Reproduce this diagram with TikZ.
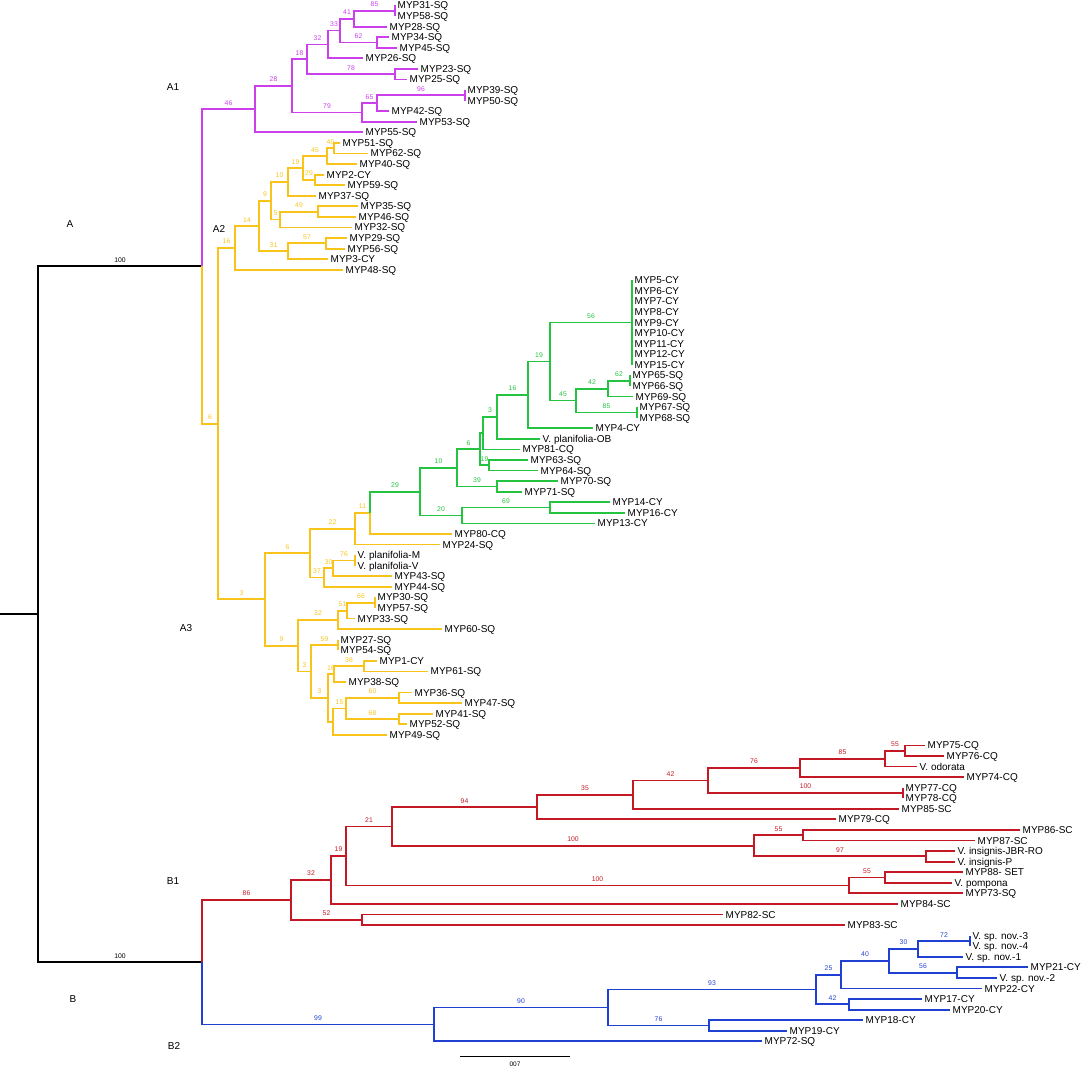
\documentclass[tikz,border=0pt]{standalone}
\usepackage{fontspec}
\setmainfont{Liberation Sans}
\usetikzlibrary{calc}
\definecolor{purp}{RGB}{204,64,236}
\definecolor{gold}{RGB}{248,196,28}
\definecolor{grn}{RGB}{36,196,64}
\definecolor{dred}{RGB}{196,24,36}
\definecolor{blu}{RGB}{32,64,212}
\tikzset{
	br/.style={line width=1.8pt},
	leaf/.style={anchor=west, inner xsep=2.5pt, inner ysep=0pt, text height=7pt, text depth=0pt,
			font=\fontsize{10}{12}\selectfont},
	bs/.style={pos=.75, above, inner sep=1pt, yshift=2pt, font=\fontsize{6.8}{7}\selectfont},
	clade/.style={font=\fontsize{10}{12}\selectfont}
}
% internal node: x from the tree, y half way between first and last child
\newcommand\inode[4]{\path let \p1=($(#3)!.5!(#4)$) in coordinate (#1) at (#2pt,\y1);}

\begin{document}
\begin{tikzpicture}[x=1pt, y=-10.57pt]
	\useasboundingbox (0,-0.52) rectangle (1085,100.52);
	% tips
	\foreach \nm/\r/\xp/\t in {
		l31/0/395/MYP31-SQ, l58/1/395/MYP58-SQ, l28/2/387/MYP28-SQ, l34/3/389/MYP34-SQ,
		l45/4/397/MYP45-SQ, l26/5/363/MYP26-SQ, l23/6/418/MYP23-SQ, l25/7/407/MYP25-SQ,
		l39/8/465/MYP39-SQ, l50/9/465/MYP50-SQ, l42/10/389/MYP42-SQ, l53/11/417/MYP53-SQ,
		l55/12/363/MYP55-SQ,
		l51/13/340/MYP51-SQ, l62/14/368/MYP62-SQ, l40/15/357/MYP40-SQ, l2/16/324/MYP2-CY,
		l59/17/345/MYP59-SQ, l37/18/316/MYP37-SQ, l35/19/358/MYP35-SQ, l46/20/356/MYP46-SQ,
		l32/21/352/MYP32-SQ, l29/22/347/MYP29-SQ, l56/23/345/MYP56-SQ, l3/24/328/MYP3-CY,
		l48/25/343/MYP48-SQ,
		l5/26/632/MYP5-CY, l6/27/632/MYP6-CY, l7/28/632/MYP7-CY, l8/29/632/MYP8-CY,
		l9/30/632/MYP9-CY, l10/31/632/MYP10-CY, l11/32/632/MYP11-CY, l12/33/632/MYP12-CY,
		l15/34/632/MYP15-CY, l65/35/630/MYP65-SQ, l66/36/630/MYP66-SQ, l69/37/633/MYP69-SQ,
		l67/38/637/MYP67-SQ, l68/39/637/MYP68-SQ, l4/40/593/MYP4-CY, lob/41/540/V. planifolia-OB,
		l81/42/520/MYP81-CQ, l63/43/528/MYP63-SQ, l64/44/538/MYP64-SQ, l70/45/558/MYP70-SQ,
		l71/46/522/MYP71-SQ, l14/47/610/MYP14-CY, l16/48/625/MYP16-CY, l13/49/595/MYP13-CY,
		l80/50/452/MYP80-CQ, l24/51/440/MYP24-SQ, lpm/52/355/V. planifolia-M,
		lpv/53/355/V. planifolia-V, l43/54/392/MYP43-SQ, l44/55/392/MYP44-SQ,
		l30/56/375/MYP30-SQ, l57/57/375/MYP57-SQ, l33/58/355/MYP33-SQ, l60/59/442/MYP60-SQ,
		l27/60/338/MYP27-SQ, l54/61/338/MYP54-SQ, l1/62/377/MYP1-CY, l61/63/428/MYP61-SQ,
		l38/64/346/MYP38-SQ, l36/65/412/MYP36-SQ, l47/66/462/MYP47-SQ, l41/67/433/MYP41-SQ,
		l52/68/407/MYP52-SQ, l49/69/387/MYP49-SQ,
		l75/70/925/MYP75-CQ, l76/71/944/MYP76-CQ, lodo/72/917/V. odorata, l74/73/964/MYP74-CQ,
		l77/74/903/MYP77-CQ, l78/75/903/MYP78-CQ, l85/76/899/MYP85-SC, l79/77/836/MYP79-CQ,
		l86/78/1020/MYP86-SC, l87/79/975/MYP87-SC, ljbr/80/955/V. insignis-JBR-RO,
		lip/81/955/V. insignis-P, l88/82/963/MYP88- SET, lpom/83/952/V. pompona,
		l73/84/963/MYP73-SQ, l84/85/898/MYP84-SC, l82/86/723/MYP82-SC, l83/87/845/MYP83-SC,
		ln3/88/970/V. sp. nov.-3, ln4/89/970/V. sp. nov.-4, ln1/90/963/V. sp. nov.-1,
		l21/91/1028/MYP21-CY, ln2/92/997/V. sp. nov.-2, l22/93/982/MYP22-CY,
		l17/94/922/MYP17-CY, l20/95/950/MYP20-CY, l18/96/863/MYP18-CY, l19/97/787/MYP19-CY,
		l72/98/762/MYP72-SQ}
	{\node[leaf] (\nm) at (\xp,\r) {\t};}
	% internal nodes, children first
	\foreach \nm/\xp/\ca/\cb in {
		a85/395/l31/l58, a41/354/a85/l28, a62/377/l34/l45, a33/340/a41/a62, a32/328/a33/l26,
		a78/395/l23/l25, a18/307/a32/a78, a96/465/l39/l50, a65/377/a96/l42, a79/362/a65/l53,
		a28/292/a18/a79, a46/255/a28/l55,
		b40/334/l51/l62, b45/327/b40/l40, b29/315/l2/l59, b19/303/b45/b29, b10/288/b19/l37,
		b49/318/l35/l46, b5/280/b49/l32, b9/271/b10/b5, b57/326/l29/l56, b31/288/b57/l3,
		b14/259/b9/b31, b16/235/b14/l48,
		g56/632/l5/l15, g62/630/l65/l66, g42/608/g62/l69, g85/637/l67/l68, g45/576/g42/g85,
		g19/550/g56/g45, g16/528/g19/l4, g3/497/g16/lob, gp/483/g3/l81, gq/489/l63/l64,
		g6/480/gp/gq, g39/497/l70/l71, g10/457/g6/g39, g69/550/l14/l16, g20/462/g69/l13,
		g29/420/g10/g20,
		c11/370/g29/l80, c22/355/c11/l24, c76/355/lpm/lpv, c30/333/c76/l43, c37/324/c30/l44,
		c6/310/c22/c37, c66/375/l30/l57, c51/347/c66/l33, c32/338/c51/l60, c59/338/l27/l54,
		c38/364/l1/l61, c16/334/c38/l38, c60/399/l36/l47, c68/399/l41/l52, c15/346/c60/c68,
		cz/333/c15/l49, c3b/328/c16/cz, c3a/311/c59/c3b, c9/298/c32/c3a, c3/265/c6/c9,
		c6a/218/b16/c3, nA/202/a46/c6a,
		r55/905/l75/l76, r85/885/r55/lodo, r76/800/r85/l74, r100/903/l77/l78, r42/708/r76/r100,
		r35/633/r42/l85, r94/537/r35/l79, r55a/803/l86/l87, r97/926/ljbr/lip,
		r100a/754/r55a/r97, r21/392/r94/r100a, r55b/885/l88/lpom, r100b/849/r55b/l73,
		r19/346/r21/r100b, r32/331/r19/l84, r52/362/l82/l83, r86/291/r32/r52,
		u72/970/ln3/ln4, u30/918/u72/ln1, u56/957/l21/ln2, u40/889/u30/u56, u25/841/u40/l22,
		u42/849/l17/l20, u93/816/u25/u42, u76/709/l18/l19, u90/608/u93/u76, u99/434/u90/l72,
		nB/202/r86/u99, nR/38/nA/nB}
	{\inode{\nm}{\xp}{\ca}{\cb}}
	\path let \p1=(nR) in coordinate (o) at (0,\y1);

	% root
	\draw[br] (o) -- (nR);
	\foreach \pa/\ch/\s in {nR/nA/100, nR/nB/100}
		{\draw[br] (\pa) |- (\ch) node[bs] {\s};}
	% A1
	\foreach \pa/\ch/\s in {nA/a46/46, a46/a28/28, a46/l55/{}, a28/a18/18, a28/a79/79, a18/a32/32,
		a18/a78/78, a32/a33/33, a32/l26/{}, a33/a41/41, a33/a62/62, a41/a85/85, a41/l28/{},
		a85/l31/{}, a85/l58/{}, a62/l34/{}, a62/l45/{}, a78/l23/{}, a78/l25/{}, a79/a65/65,
		a79/l53/{}, a65/a96/96, a65/l42/{}, a96/l39/{}, a96/l50/{}}
		{\draw[br,purp] (\pa) |- (\ch) node[bs] {\s};}
	% A2 and A3
	\foreach \pa/\ch/\s in {nA/c6a/6, c6a/b16/16, c6a/c3/3, b16/b14/14, b16/l48/{}, b14/b9/9,
		b14/b31/31, b9/b10/10, b9/b5/5, b10/b19/19, b10/l37/{}, b19/b45/45, b19/b29/29,
		b45/b40/40, b45/l40/{}, b40/l51/{}, b40/l62/{}, b29/l2/{}, b29/l59/{}, b5/b49/49,
		b5/l32/{}, b49/l35/{}, b49/l46/{}, b31/b57/57, b31/l3/{}, b57/l29/{}, b57/l56/{},
		c3/c6/6, c3/c9/9, c6/c22/22, c6/c37/37, c22/c11/11, c22/l24/{}, c11/l80/{}, c37/c30/30,
		c37/l44/{}, c30/c76/76, c30/l43/{}, c76/lpm/{}, c76/lpv/{}, c9/c32/32, c9/c3a/3,
		c32/c51/51, c32/l60/{}, c51/c66/66, c51/l33/{}, c66/l30/{}, c66/l57/{}, c3a/c59/59,
		c3a/c3b/3, c59/l27/{}, c59/l54/{}, c3b/c16/16, c3b/cz/{}, c16/c38/38, c16/l38/{},
		c38/l1/{}, c38/l61/{}, cz/c15/15, cz/l49/{}, c15/c60/60, c15/c68/68, c60/l36/{},
		c60/l47/{}, c68/l41/{}, c68/l52/{}}
		{\draw[br,gold] (\pa) |- (\ch) node[bs] {\s};}
	% green part of A3
	\foreach \pa/\ch/\s in {c11/g29/29, g29/g10/10, g29/g20/20, g10/g6/6, g10/g39/39, g6/gp/{},
		g6/gq/19, gp/g3/3, gp/l81/{}, g3/g16/16, g3/lob/{}, g16/g19/19, g16/l4/{}, g19/g56/56,
		g19/g45/45, g45/g42/42, g45/g85/85, g42/g62/62, g42/l69/{}, g62/l65/{}, g62/l66/{},
		g85/l67/{}, g85/l68/{}, gq/l63/{}, gq/l64/{}, g39/l70/{}, g39/l71/{}, g20/g69/69,
		g20/l13/{}, g69/l14/{}, g69/l16/{}}
		{\draw[br,grn] (\pa) |- (\ch) node[bs] {\s};}
	\foreach \k in {l5,l6,l7,l8,l9,l10,l11,l12,l15}
		{\draw[br,grn] (g56) |- (\k);}
	% B1
	\foreach \pa/\ch/\s in {nB/r86/86, r86/r32/32, r86/r52/52, r32/r19/19, r32/l84/{}, r19/r21/21,
		r19/r100b/100, r21/r94/94, r21/r100a/100, r94/r35/35, r94/l79/{}, r35/r42/42,
		r35/l85/{}, r42/r76/76, r42/r100/100, r76/r85/85, r76/l74/{}, r85/r55/55, r85/lodo/{},
		r55/l75/{}, r55/l76/{}, r100/l77/{}, r100/l78/{}, r100a/r55a/55, r100a/r97/97,
		r55a/l86/{}, r55a/l87/{}, r97/ljbr/{}, r97/lip/{}, r100b/r55b/55, r100b/l73/{},
		r55b/l88/{}, r55b/lpom/{}, r52/l82/{}, r52/l83/{}}
		{\draw[br,dred] (\pa) |- (\ch) node[bs] {\s};}
	% B2
	\foreach \pa/\ch/\s in {nB/u99/99, u99/u90/90, u99/l72/{}, u90/u93/93, u90/u76/76,
		u93/u25/25, u93/u42/42, u25/u40/40, u25/l22/{}, u40/u30/30, u40/u56/56, u30/u72/72,
		u30/ln1/{}, u72/ln3/{}, u72/ln4/{}, u56/l21/{}, u56/ln2/{}, u42/l17/{}, u42/l20/{},
		u76/l18/{}, u76/l19/{}}
		{\draw[br,blu] (\pa) |- (\ch) node[bs] {\s};}

	% clade names
	\node[clade] (labA) at (70,20.67) {A};
	\node[clade] (labAone) at (173,7.71) {A1};
	\node[clade] (labAtwo) at (219,21.14) {A2};
	\node[clade] (labAthree) at (186,58.89) {A3};
	\node[clade] (labB) at (73,93.99) {B};
	\node[clade] (labBone) at (173,82.83) {B1};
	\node[clade] (labBtwo) at (174,98.44) {B2};

	% scale bar
	\coordinate (sbl) at (460,99.38);
	\coordinate (sbr) at (570,99.38);
	\draw[line width=0.8pt] (sbl) -- (sbr);
	\node[font=\fontsize{6.5}{7}\selectfont] (sblab) at (515,100.2) {007};
\end{tikzpicture}
\end{document}
